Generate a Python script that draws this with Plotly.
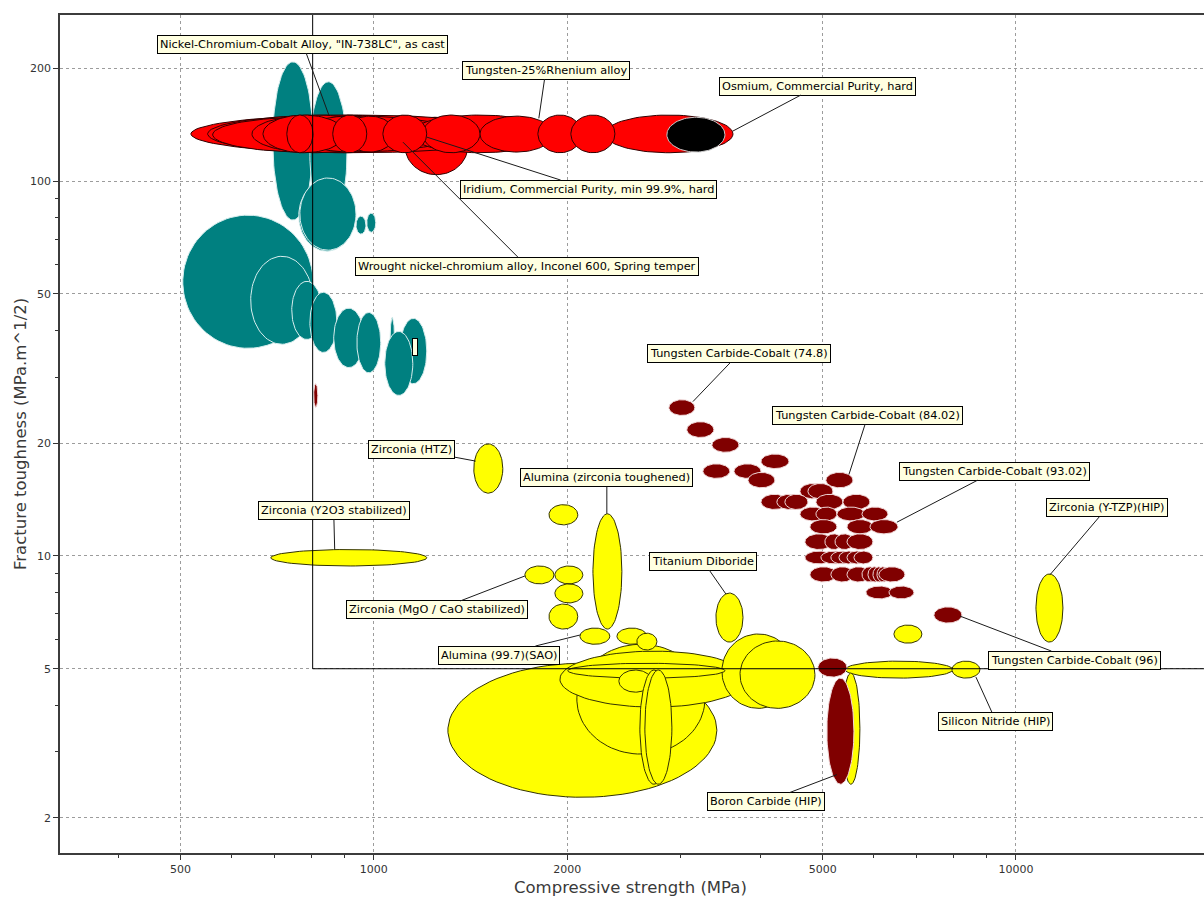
import numpy as np
import plotly.graph_objects as go

# Each material: (compressive strength low, high [MPa], fracture toughness low, high [MPa.m^1/2])
nickel_alloys = [
    (504, 804, 35.8, 81.1),
    (696, 804, 78.7, 208),
    (795, 908, 76.0, 184),
    (764, 934, 65.0, 100.6),
    (767, 938, 65.4, 101.9),
    (643, 804, 36.7, 63.0),
    (745, 830, 37.8, 54.0),
    (795, 876, 34.9, 50.5),
    (866, 965, 31.8, 45.8),
    (941, 1025, 30.8, 44.6),
    (1098, 1209, 28.8, 43.0),
    (1059, 1078, 29.4, 43.3),
    (1040, 1150, 26.8, 39.7),
    (938, 972, 72.2, 80.6),
    (975, 1007, 73.0, 82.1),
]

refractory_metals = [
    (1118, 1401, 104, 148),
    (519, 1688, 119, 150),
    (551, 1361, 119, 150),
    (2290, 3625, 119, 150),
    (561, 1098, 119.5, 148),
    (1138, 1880, 119, 150),
    (1463, 1900, 119.5, 149),
    (646, 1022, 119, 150),
    (767, 1098, 119.5, 149),
    (1192, 1463, 119, 150),
    (672, 901, 119, 150),
    (901, 1078, 119.5, 149),
    (1033, 1209, 119, 150),
    (1801, 2109, 119, 150),
    (2027, 2374, 119, 150),
    (863, 975, 119, 150),
    (732, 804, 119, 150),
]

osmium = [
    (2860, 3522, 119.5, 148),
]

ceramics = [
    (1304, 3422, 2.27, 5.17),
    (2071, 3278, 2.96, 5.81),
    (1949, 3826, 3.95, 5.57),
    (3484, 4527, 3.92, 6.19),
    (3718, 4864, 3.92, 5.93),
    (2005, 3522, 4.72, 5.17),
    (2408, 2710, 4.33, 4.96),
    (2596, 2871, 2.46, 4.96),
    (2643, 2912, 2.46, 4.96),
    (2094, 2331, 5.81, 6.42),
    (2391, 2662, 5.81, 6.42),
    (2568, 2760, 5.61, 6.22),
    (1719, 1908, 8.42, 9.40),
    (1914, 2116, 8.42, 9.40),
    (1914, 2116, 7.49, 8.42),
    (1874, 2078, 6.38, 7.44),
    (1874, 2078, 12.1, 13.7),
    (2194, 2434, 6.38, 12.95),
    (1431, 1588, 14.7, 19.9),
    (691, 1209, 9.40, 10.4),
    (3410, 3758, 5.89, 7.96),
    (6457, 7138, 5.85, 6.54),
    (10745, 11837, 5.89, 8.95),
    (5416, 7979, 4.72, 5.24),
    (7950, 8788, 4.72, 5.24),
    (5358, 5715, 2.46, 4.87),
]

carbides = [
    (806, 818, 24.9, 28.8),
    (2881, 3162, 23.7, 26.1),
    (3072, 3385, 20.7, 22.8),
    (3361, 3704, 18.9, 20.7),
    (3254, 3585, 16.1, 17.6),
    (3638, 4008, 16.1, 17.6),
    (4008, 4431, 17.1, 18.7),
    (3826, 4213, 15.2, 16.7),
    (5058, 5574, 15.2, 16.7),
    (4609, 5058, 14.2, 15.6),
    (4743, 5188, 14.2, 15.6),
    (4008, 4415, 13.3, 14.6),
    (4243, 4642, 13.3, 14.6),
    (4367, 4743, 13.3, 14.6),
    (4881, 5377, 13.3, 14.6),
    (5377, 5924, 13.3, 14.6),
    (4609, 5058, 12.4, 13.5),
    (4881, 5263, 12.4, 13.5),
    (5263, 5818, 12.4, 13.5),
    (5757, 6319, 12.4, 13.5),
    (4777, 5263, 11.45, 12.5),
    (5456, 5988, 11.45, 12.5),
    (5924, 6550, 11.45, 12.5),
    (4692, 5188, 10.4, 11.45),
    (5040, 5377, 10.4, 11.45),
    (5226, 5594, 10.4, 11.45),
    (5456, 5988, 10.4, 11.45),
    (4692, 5188, 9.52, 10.3),
    (4969, 5456, 9.52, 10.3),
    (5150, 5554, 9.52, 10.3),
    (5301, 5675, 9.52, 10.3),
    (5456, 5840, 9.52, 10.3),
    (5594, 5988, 9.52, 10.3),
    (4777, 5263, 8.52, 9.35),
    (5150, 5594, 8.52, 9.35),
    (5456, 5924, 8.52, 9.35),
    (5757, 6075, 8.52, 9.35),
    (5882, 6162, 8.52, 9.35),
    (5988, 6252, 8.52, 9.35),
    (6075, 6343, 8.52, 9.35),
    (6118, 6716, 8.52, 9.35),
    (5840, 6434, 7.68, 8.31),
    (6343, 6936, 7.68, 8.31),
    (7451, 8240, 6.62, 7.31),
    (4916, 5456, 4.75, 5.34),
    (5076, 5594, 2.46, 4.72),
]

# Selection limits (lower bounds of the search box)
strength_min = 803
toughness_min = 5.0

# Labelled materials: text, point on the bubble (MPa, MPa.m^1/2)
label_text = [
    'Nickel-Chromium-Cobalt Alloy, "IN-738LC", as cast',
    'Tungsten-25%Rhenium alloy',
    'Osmium, Commercial Purity, hard',
    'Iridium, Commercial Purity, min 99.9%, hard',
    'Wrought nickel-chromium alloy, Inconel 600, Spring temper',
    'Tungsten Carbide-Cobalt (74.8)',
    'Tungsten Carbide-Cobalt (84.02)',
    'Tungsten Carbide-Cobalt (93.02)',
    'Zirconia (Y-TZP)(HIP)',
    'Zirconia (HTZ)',
    'Alumina (zirconia toughened)',
    'Zirconia (Y2O3 stabilized)',
    'Titanium Diboride',
    'Zirconia (MgO / CaO stabilized)',
    'Alumina (99.7)(SAO)',
    'Tungsten Carbide-Cobalt (96)',
    'Silicon Nitride (HIP)',
    'Boron Carbide (HIP)',
]
label_strength = [851, 1807, 3625, 1209, 1110, 3140, 5495, 6526, 11297,
                  1441, 2306, 869, 3535, 1719, 2094, 8181, 8664, 5263]
label_toughness = [150, 147, 136, 131, 127, 25.8, 16.5, 12.3, 8.9,
                   17.9, 12.95, 10.4, 7.91, 8.84, 6.15, 6.91, 4.75, 2.61]
# pixel offset of each label box centre from its bubble point
label_offset = [(-26, -71), (7, -48), (85, -45), (162, 52), (124, 124),
                (46, -48), (19, -59), (98, -51), (57, -67), (-64, -12),
                (0, -36), (-1, -39), (-23, -33), (-88, 34), (-81, 20),
                (115, 44), (20, 44), (-71, 27)]

groups = [
    (nickel_alloys, '#008080', '#d6eded', 1.0),
    (refractory_metals, '#ff0000', '#300000', 1.0),
    (osmium, '#000000', '#c8c8c8', 1.0),
    (ceramics, '#ffff00', '#333300', 1.0),
    (carbides, '#800000', '#f0d8d8', 1.0),
]


def ellipse(xlo, xhi, ylo, yhi, n=90):
    lx0, lx1 = np.log10(xlo), np.log10(xhi)
    ly0, ly1 = np.log10(ylo), np.log10(yhi)
    cx, cy = (lx0 + lx1) / 2, (ly0 + ly1) / 2
    rx, ry = (lx1 - lx0) / 2, (ly1 - ly0) / 2
    t = np.linspace(0, 2 * np.pi, n)
    return 10 ** (cx + rx * np.cos(t)), 10 ** (cy + ry * np.sin(t))


fig = go.Figure()
for records, fill, edge, lw in groups:
    for xlo, xhi, ylo, yhi in records:
        ex, ey = ellipse(xlo, xhi, ylo, yhi)
        fig.add_trace(go.Scatter(
            x=ex, y=ey, mode='lines', fill='toself', fillcolor=fill,
            line=dict(color=edge, width=lw), hoverinfo='skip', showlegend=False))

# selection box boundary
fig.add_trace(go.Scatter(
    x=[strength_min, strength_min, 1e6], y=[1e4, toughness_min, toughness_min],
    mode='lines', line=dict(color='#000000', width=1),
    hoverinfo='skip', showlegend=False))

label_font = dict(family='DejaVu Sans', size=11.3, color='#000000')
for text, sx, ty, (dx, dy) in zip(label_text, label_strength, label_toughness, label_offset):
    fig.add_annotation(
        x=np.log10(sx), y=np.log10(ty), xref='x', yref='y',
        text=text, showarrow=True, arrowhead=0, arrowwidth=1, arrowcolor='#1a1a1a',
        ax=dx, ay=dy, standoff=0, font=label_font,
        bgcolor='#ffffe1', bordercolor='#000000', borderwidth=1, borderpad=2)

# empty tag sitting on one of the nickel alloys
fig.add_annotation(
    x=np.log10(1160), y=np.log10(36.1), xref='x', yref='y', text=' ',
    showarrow=False, width=4, height=16, font=label_font,
    bgcolor='#ffffe1', bordercolor='#000000', borderwidth=1, borderpad=0)

x_major = [500, 1000, 2000, 5000, 10000]
x_minor = [400, 600, 700, 800, 900, 3000, 4000, 6000, 7000, 8000, 9000]
y_major = [2, 5, 10, 20, 50, 100, 200]
y_minor = [3, 4, 6, 7, 8, 9, 30, 40, 60, 70, 80, 90]

tick_font = dict(family='DejaVu Sans', size=11, color='#333333')
grid = dict(showgrid=True, gridcolor='#9c9c9c', gridwidth=1, griddash='3px,3px',
            ticks='outside', ticklen=5, tickcolor='#333333', tickfont=tick_font,
            showline=True, linecolor='#3c3c3c', linewidth=1.5, zeroline=False)

fig.update_xaxes(type='log', range=[np.log10(324.5), np.log10(19630)],
                 tickmode='array', tickvals=x_major, ticktext=[str(v) for v in x_major],
                 minor=dict(tickmode='array', tickvals=x_minor, ticks='outside',
                            ticklen=3, tickcolor='#333333', showgrid=False),
                 mirror=True, **grid)
fig.update_yaxes(type='log', range=[0.2074, 2.443],
                 tickmode='array', tickvals=y_major, ticktext=[str(v) for v in y_major],
                 minor=dict(tickmode='array', tickvals=y_minor, ticks='outside',
                            ticklen=3, tickcolor='#333333', showgrid=False),
                 **grid)

title_font = dict(family='DejaVu Sans', size=16.5, color='#3a3a3a')
fig.add_annotation(text='Compressive strength (MPa)', xref='paper', yref='paper',
                   x=0.499, y=-0.0406, xanchor='center', yanchor='middle',
                   showarrow=False, font=title_font)
fig.add_annotation(text='Fracture toughness (MPa.m^1/2)', xref='paper', yref='paper',
                   x=-0.035, y=0.5, xanchor='center', yanchor='middle', textangle=-90,
                   showarrow=False, font=title_font)

fig.update_layout(
    width=1204, height=898,
    margin=dict(l=60, r=0, t=15, b=45),
    paper_bgcolor='#ffffff', plot_bgcolor='#ffffff',
    showlegend=False,
)

fig.write_html('out.html')
